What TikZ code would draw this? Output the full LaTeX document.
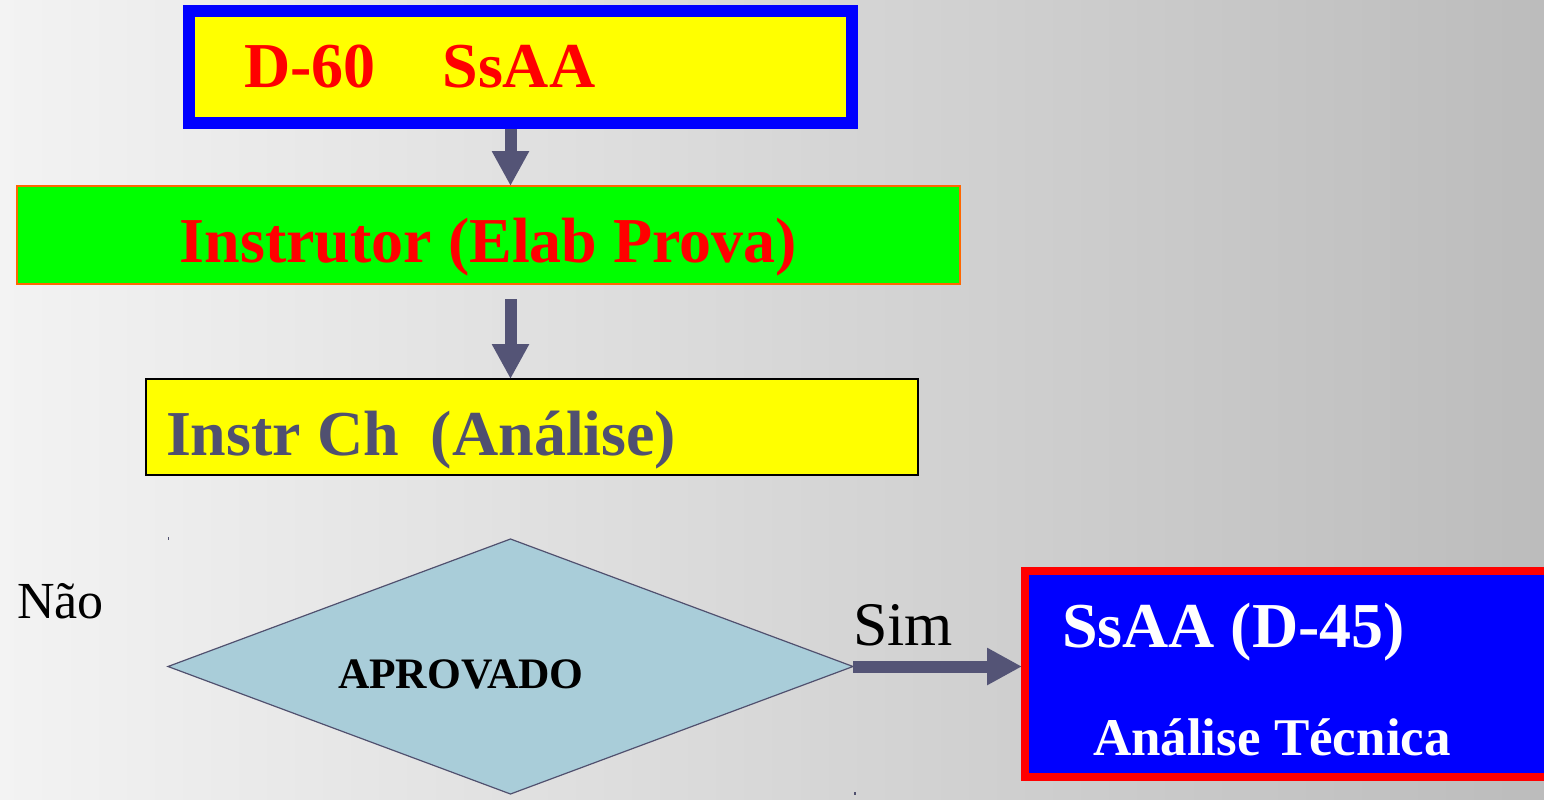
\documentclass[tikz,border=0pt]{standalone}
\usepackage{fontspec}
\setmainfont{Liberation Serif}
\usetikzlibrary{arrows.meta,shapes.geometric}
\definecolor{bgL}{RGB}{243,243,243}
\definecolor{bgR}{RGB}{188,188,188}
\definecolor{arrowc}{RGB}{84,84,118}
\definecolor{textc}{RGB}{80,80,112}
\definecolor{dfill}{RGB}{169,205,217}
\definecolor{dline}{RGB}{80,80,110}
\definecolor{orangeb}{RGB}{255,102,0}
\definecolor{bluec}{RGB}{0,0,255}
\definecolor{redc}{RGB}{255,0,0}
\definecolor{yel}{RGB}{255,255,0}
\definecolor{grn}{RGB}{0,255,0}
\tikzset{
  box/.style={rectangle, inner sep=0pt, outer sep=0pt},
  arr/.style={draw=arrowc, line width=12pt, -{Triangle[length=35pt,width=35pt]}, arrowc},
  big/.style={font=\fontsize{64}{64}\selectfont\bfseries},
  lbl/.style={inner sep=0pt, outer sep=0pt, anchor=base west},
}
\begin{document}
\begin{tikzpicture}[x=1pt,y=-1pt]
\useasboundingbox (0,0) rectangle (1544,800);
\shade[left color=bgL, right color=bgR] (0,0) rectangle (1544,800);

% boxes
\node[box, draw=bluec, line width=12pt, fill=yel, minimum width=663pt, minimum height=112pt] (top) at (520.5,67) {};
\node[box, draw=orangeb, line width=2pt, fill=grn, minimum width=943pt, minimum height=98pt] (green) at (488.5,235) {};
\node[box, draw=black, line width=1.6pt, fill=yel, minimum width=772pt, minimum height=96pt] (chk) at (532,427) {};
\node[diamond, draw=dline, line width=1.2pt, fill=dfill, inner sep=0pt, outer sep=0pt, aspect=2.686, minimum width=685pt, minimum height=255pt] (dec) at (510.5,666.5) {};
\node[box, draw=redc, line width=8pt, fill=bluec, minimum width=523pt, minimum height=206pt] (ssaa) at (1286.5,674) {};

% texts
\node[lbl, big, text=redc] (t1) at (244,87) {D-60\hspace{67pt}SsAA};
\node[big, text=redc, inner sep=0pt, anchor=base] (t2) at (488.5,262) {Instrutor (Elab Prova)};
\node[lbl, big, text=textc] (t3) at (166,455) {Instr Ch\ \ (Análise)};
\node[lbl, font=\fontsize{43.5}{43.5}\selectfont\bfseries, text=black] (t4) at (338,688) {APROVADO};
\node[lbl, big, text=white] (t5) at (1062,647) {SsAA (D-45)};
\node[lbl, font=\fontsize{53}{53}\selectfont\bfseries, text=white] (t6) at (1093,755) {Análise Técnica};
\node[lbl, font=\fontsize{52}{52}\selectfont, text=black] (nao) at (17,618) {Não};
\node[lbl, font=\fontsize{62}{62}\selectfont, text=black] (sim) at (853,645) {Sim};

% connectors
\draw[arr, shorten <=6pt] (top.south -| dec.north) -- (green.north -| dec.north);
\draw[arr, shorten <=15pt] (green.south -| dec.north) -- (chk.north -| dec.north);
\draw[arr, shorten >=3pt] (dec.east) -- (dec.east -| ssaa.west);

% tiny marks
\fill[dline] (167.5,537) rectangle (169,540);
\fill[dline] (854,792) rectangle (855.5,795);
\end{tikzpicture}
\end{document}
